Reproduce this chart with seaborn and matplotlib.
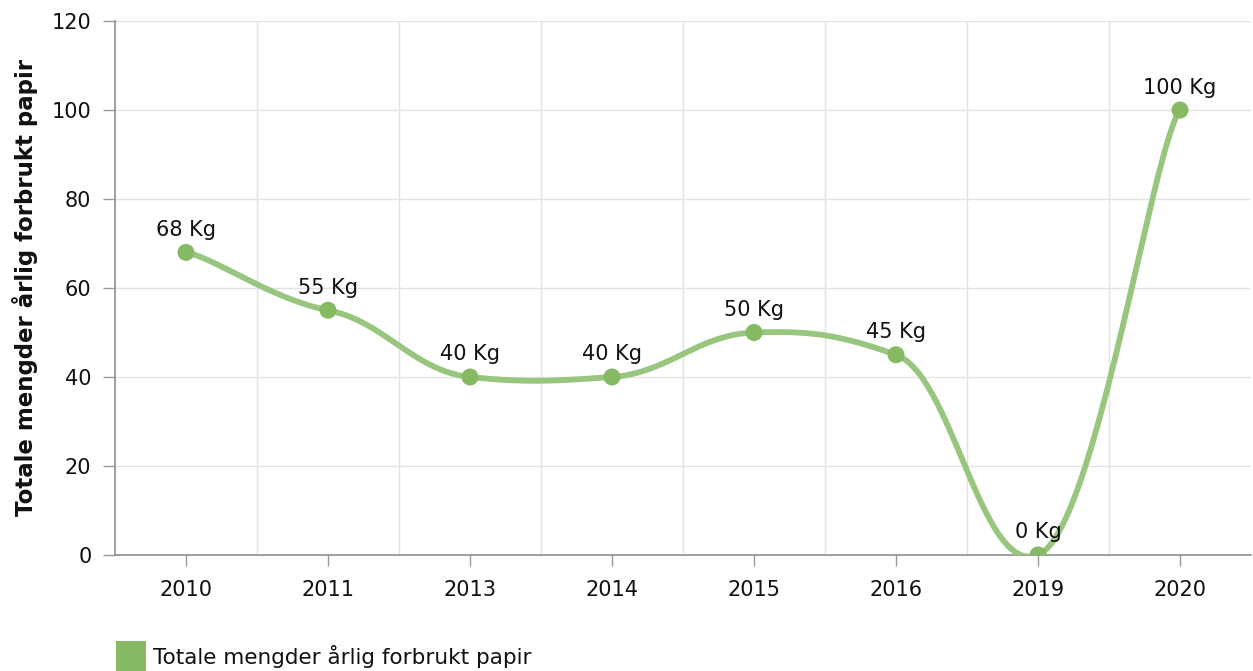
import numpy as np
import pandas as pd
import seaborn as sns
import matplotlib.pyplot as plt
from matplotlib.patches import Patch

# data
years = ["2010", "2011", "2013", "2014", "2015", "2016", "2019", "2020"]
paper_kg = [68, 55, 40, 40, 50, 45, 0, 100]
series_name = "Totale mengder årlig forbrukt papir"
y_ticks = [0, 20, 40, 60, 80, 100, 120]

LINE_GREEN = "#99c67e"
DOT_GREEN = "#85b962"


def smooth_curve(xs, ys, tx=0.2, ty=0.09, n=60):
    # bezier through the points, separate x / y tension for the control points
    pts = np.column_stack([np.asarray(xs, float), np.asarray(ys, float)])
    k = len(pts)
    t = np.linspace(0, 1, n)[:, None]
    tens = np.array([tx, ty])
    out = []
    for i in range(k - 1):
        p0 = pts[max(i - 1, 0)]
        p1 = pts[i]
        p2 = pts[i + 1]
        p3 = pts[min(i + 2, k - 1)]
        ca = p1 + tens * (p2 - p0)
        cb = p2 + tens * (p1 - p3)
        seg = (1 - t) ** 3 * p1 + 3 * (1 - t) ** 2 * t * ca + 3 * (1 - t) * t ** 2 * cb + t ** 3 * p2
        out.append(seg)
    out = np.vstack(out)
    return out[:, 0], out[:, 1]


df = pd.DataFrame({"pos": range(len(years)), "year": years, "kg": paper_kg})
cx, cy = smooth_curve(df["pos"], df["kg"])
curve = pd.DataFrame({"x": cx, "y": cy})

sns.set_style("white")
plt.rcParams["font.family"] = ["DejaVu Sans"]

fig = plt.figure(figsize=(12.53, 6.71), dpi=100)
ax = fig.add_axes([115 / 1253, 116 / 671, 1136 / 1253, 534 / 671])

sns.lineplot(data=curve, x="x", y="y", ax=ax, color=LINE_GREEN, linewidth=4.2,
             sort=False, estimator=None, zorder=3)
sns.scatterplot(data=df, x="pos", y="kg", ax=ax, color=DOT_GREEN, s=150, edgecolor="none", zorder=4)

for _, r in df.iterrows():
    ax.annotate(f"{r['kg']} Kg", (r["pos"], r["kg"]), xytext=(0, 9), textcoords="offset points",
                ha="center", va="bottom", fontsize=15, color="#111111")

ax.set_xlim(-0.5, len(years) - 0.5)
ax.set_ylim(0, 120)
ax.set_xticks(df["pos"])
ax.set_xticklabels(years)
ax.set_yticks(y_ticks)
ax.set_xticks(np.arange(0.5, len(years) - 0.5, 1), minor=True)

ax.grid(False)
ax.grid(axis="y", which="major", color="#e3e3e3", linewidth=1)
ax.grid(axis="x", which="minor", color="#e3e3e3", linewidth=1)
ax.set_axisbelow(True)

for side in ["top", "right"]:
    ax.spines[side].set_visible(False)
for side in ["left", "bottom"]:
    ax.spines[side].set_color("#8f8f8f")
    ax.spines[side].set_linewidth(1.2)

ax.tick_params(axis="x", which="major", length=8, width=1, color="#999999", labelsize=15, pad=10,
               labelcolor="#111111", direction="out", bottom=True)
ax.tick_params(axis="x", which="minor", length=0)
ax.tick_params(axis="y", length=9, width=1, color="#999999", labelsize=15, pad=8,
               labelcolor="#111111", direction="out", left=True)

ax.set_xlabel("")
ax.set_ylabel(series_name, fontsize=16.5, fontweight="bold", labelpad=10, color="#111111")

handle = Patch(facecolor=DOT_GREEN, edgecolor="none", label=series_name)
fig.legend(handles=[handle], loc="lower left", bbox_to_anchor=(116 / 1253, -2 / 671), frameon=False,
           fontsize=15.5, handlelength=1.4, handleheight=1.9, handletextpad=0.3,
           borderpad=0, borderaxespad=0, labelcolor="#111111")

fig.savefig("out.png", dpi=100)
